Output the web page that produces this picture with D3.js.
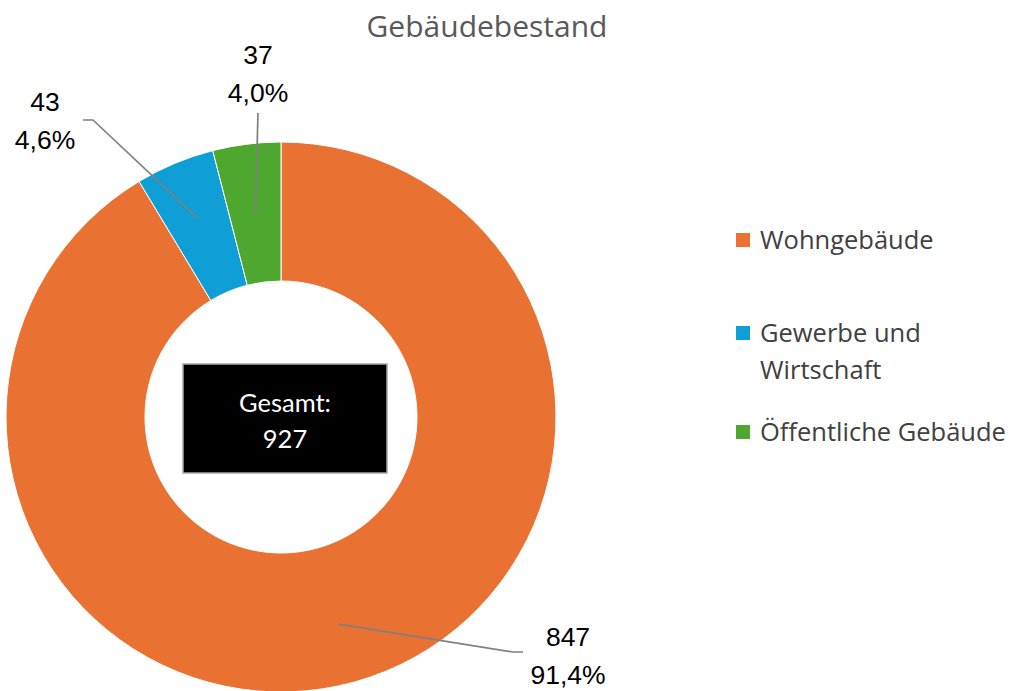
<!DOCTYPE html>
<html><head><meta charset="utf-8">
<script src="https://cdn.jsdelivr.net/npm/d3@7"></script>
<style>body{margin:0;background:#fff;}svg{display:block;}</style>
</head><body>
<svg id="c" width="1014" height="691"></svg>
<script>
const categories = ["Wohngebäude", "Gewerbe und Wirtschaft", "Öffentliche Gebäude"];
const values = [847, 43, 37];
const percentLabels = ["91,4%", "4,6%", "4,0%"];
const colors = ["#E97132", "#0F9ED5", "#4EA72E"];
const legendLines = [["Wohngebäude"], ["Gewerbe und", "Wirtschaft"], ["Öffentliche Gebäude"]];
const totalLabel = ["Gesamt:", "927"];
const title = "Gebäudebestand";

const svg = d3.select("#c");
const cx = 281, cy = 417, R = 275, r = 136;

svg.append("text").attr("x", 487).attr("y", 37).attr("text-anchor", "middle")
  .attr("font-family", "Open Sans, sans-serif").attr("font-size", 30).attr("fill", "#595959").text(title);

const pie = d3.pie().sort(null).value(d => d)(values);
const arc = d3.arc().innerRadius(r).outerRadius(R);
const g = svg.append("g").attr("transform", `translate(${cx},${cy})`);
g.selectAll("path").data(pie).join("path").attr("d", arc)
  .attr("fill", (d, i) => colors[i]).attr("stroke", "#fff").attr("stroke-width", 1);

const mid = d => (d.startAngle + d.endAngle) / 2;
const ptAt = (a, rad) => [cx + rad * Math.sin(a), cy - rad * Math.cos(a)];
const labelPos = [
  {tx: 568, ty: 646, anchorR: 215, elbow: [[513, 652], [523, 652]]},
  {tx: 45, ty: 111, anchorR: 215, elbow: [[93, 120], [83, 120]]},
  {tx: 258, ty: 64, anchorR: 205, elbow: [[258, 113]]}
];
pie.forEach((d, i) => {
  const p = labelPos[i];
  const start = ptAt(mid(d), p.anchorR);
  const pts = [start, ...p.elbow];
  svg.append("path").attr("d", d3.line()(pts)).attr("fill", "none")
    .attr("stroke", "#808080").attr("stroke-width", 1.7);
  const t = svg.append("text").attr("text-anchor", "middle")
    .attr("font-family", "Liberation Sans, Arial, sans-serif").attr("font-size", 26.5).attr("fill", "#000");
  t.append("tspan").attr("x", p.tx).attr("y", p.ty).text(values[i]);
  t.append("tspan").attr("x", p.tx).attr("y", p.ty + 38).text(percentLabels[i]);
});

svg.append("rect").attr("x", 183).attr("y", 364).attr("width", 204).attr("height", 109)
  .attr("fill", "#000").attr("stroke", "#a6a6a6").attr("stroke-width", 1.5);
const ct = svg.append("text").attr("text-anchor", "middle")
  .attr("font-family", "Lato, sans-serif").attr("font-size", 25.5).attr("fill", "#fff");
ct.append("tspan").attr("x", 285).attr("y", 412).text(totalLabel[0]);
ct.append("tspan").attr("x", 285).attr("y", 448).text(totalLabel[1]);

const legY = [240, 333, 432];
legendLines.forEach((lines, i) => {
  svg.append("rect").attr("x", 736).attr("y", legY[i] - 7).attr("width", 14).attr("height", 14).attr("fill", colors[i]);
  const t = svg.append("text").attr("font-family", "Open Sans, sans-serif").attr("font-size", 25.5).attr("fill", "#404040");
  lines.forEach((l, j) => t.append("tspan").attr("x", 760).attr("y", legY[i] + 9 + j * 37).text(l));
});
</script>
</body></html>
